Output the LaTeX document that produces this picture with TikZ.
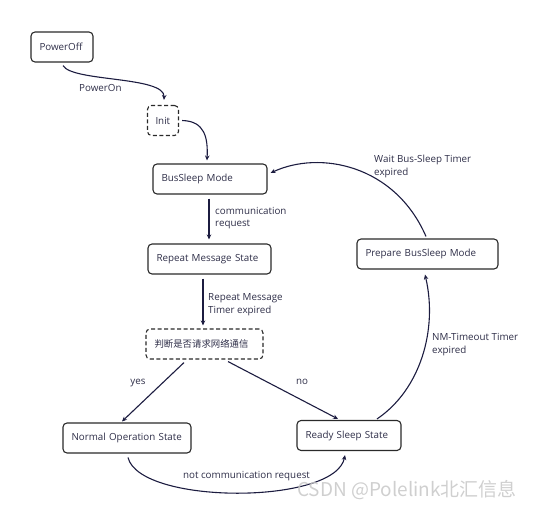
\documentclass[tikz,border=0pt]{standalone}
\usepackage{fontspec}
\setmainfont{Open Sans}
\newfontfamily\cjkfont{Noto Sans CJK SC}
\usetikzlibrary{arrows.meta}
\definecolor{linec}{HTML}{1C1C40}
\definecolor{boxc}{HTML}{2A2A2A}
\definecolor{txtc}{HTML}{2E2E48}
\tikzset{
  statebox/.style={draw=boxc, rounded corners=4pt, line width=1.1pt, inner xsep=8.5pt,
    minimum height=30pt, align=left, text=txtc, font=\fontsize{9.8}{11}\selectfont},
  dashbox/.style={statebox, dash pattern=on 4pt off 2.5pt},
  arr/.style={draw=linec, line width=1.1pt, -{Stealth[length=5pt,width=4.5pt]}},
  lbl/.style={inner sep=0pt, text=txtc, align=left, font=\fontsize{9.8}{12.5}\selectfont},
}
\begin{document}
\begin{tikzpicture}[x=1pt,y=1pt]
\useasboundingbox (0,0) rectangle (533,-509);
% states
\node[statebox, text width=45pt] (po) at (62,-47) {PowerOff};
\node[dashbox, text width=15pt, inner xsep=8pt] (init) at (163,-120.5) {Init};
\node[statebox, text width=97pt] (bs) at (210,-179) {BusSleep Mode};
\node[statebox, text width=106pt] (rm) at (209.5,-259) {Repeat Message State};
\node[dashbox, text width=100pt] (jd) at (204.5,-344) {\cjkfont\fontsize{9.4}{11}\selectfont 判断是否请求网络通信};
\node[statebox, text width=111pt] (no) at (127,-438) {Normal Operation State};
\node[statebox, text width=87pt] (rs) at (349,-435.5) {Ready Sleep State};
\node[statebox, text width=124pt] (pb) at (427.5,-254) {Prepare BusSleep Mode};
% connectors
\draw[arr] ([shift={(1pt,-3pt)}]po.south) .. controls (72,-82) and (165,-76) .. ([shift={(1pt,5pt)}]init.north);
\draw[arr] ([xshift=3pt]init.east) .. controls (205,-121) and (208,-138) .. ([shift={(-3pt,3pt)}]bs.north);
\draw[arr] ([shift={(-1.5pt,2pt)}]pb.north) .. controls (395,-165) and (320,-150) .. ([shift={(3pt,6pt)}]bs.east);
\draw[arr, shorten <=4pt, shorten >=4pt] ([xshift=-1pt]bs.south) -- ([xshift=-1pt]bs.south |- rm.north);
\draw[arr, shorten <=4pt, shorten >=3pt] ([xshift=-1.5pt]jd.north |- rm.south) -- ([xshift=-1.5pt]jd.north);
\draw[arr] ([shift={(-20.5pt,-3pt)}]jd.south) -- ([shift={(-5pt,1pt)}]no.north);
\draw[arr] ([shift={(23.5pt,-2pt)}]jd.south) -- ([shift={(-11pt,1pt)}]rs.north);
\draw[arr] ([shift={(28pt,1pt)}]rs.north) .. controls (420,-390) and (438,-330) .. ([shift={(-2.5pt,-5pt)}]pb.south);
\draw[arr] ([shift={(1pt,-4pt)}]no.south) .. controls (140,-505) and (335,-505) .. ([shift={(-4pt,-4pt)}]rs.south);
% labels
\node[lbl, anchor=west] (lpo) at (79,-88) {PowerOn};
\node[lbl, anchor=west] (lws) at (374,-166.5) {Wait Bus-Sleep Timer\\expired};
\node[lbl, anchor=west] (lcr) at (215,-218) {communication\\request};
\node[lbl, anchor=west] (lrm) at (208,-304.5) {Repeat Message\\Timer expired};
\node[lbl] (lyes) at (138,-383) {yes};
\node[lbl] (lno) at (302,-382) {no};
\node[lbl, anchor=west] (lnm) at (432,-344.5) {NM-Timeout Timer\\expired};
\node[lbl] (lnc) at (246.5,-476) {not communication request};
\node[inner sep=0pt, anchor=west, text=black!22, font=\cjkfont\fontsize{19}{20}\selectfont, opacity=0.85] (wm) at (297,-490) {CSDN @Polelink北汇信息};
\end{tikzpicture}
\end{document}
